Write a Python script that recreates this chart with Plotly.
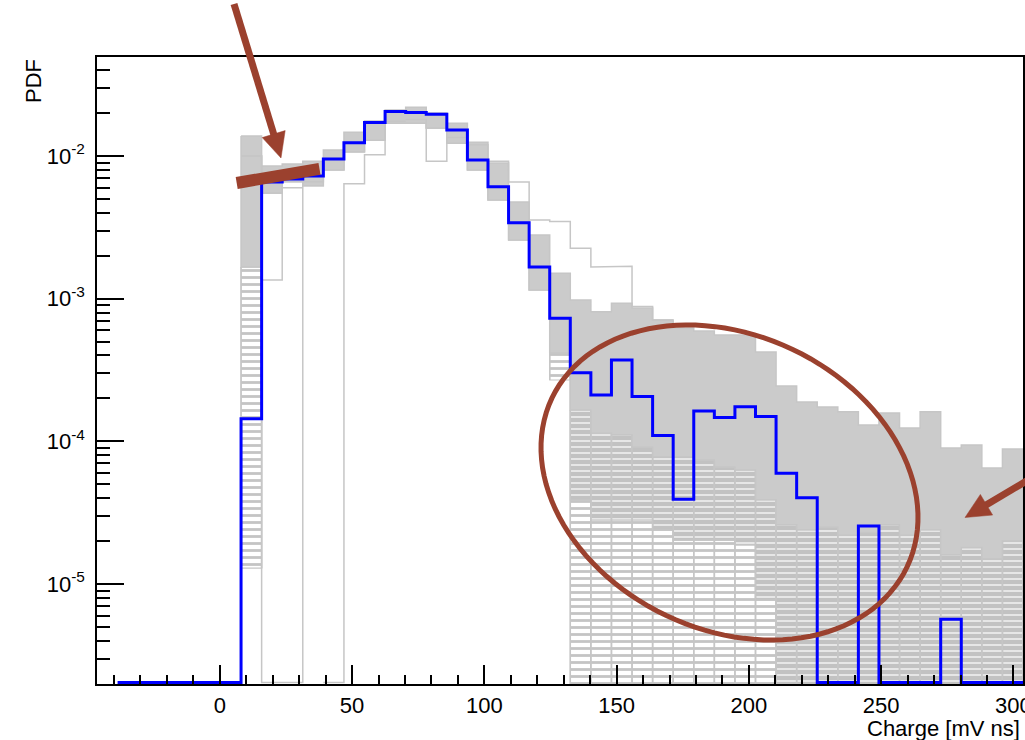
import math
import plotly.graph_objects as go

# ---------------- data ----------------
BIN_START = -38.62          # left edge of first drawn bin [mV ns]
BIN_WIDTH = 350.0 / 45.0    # bin width [mV ns]
N_BINS = 44
X_RANGE = [-46.4, 303.6]
LOG_Y_RANGE = [-5.701, -1.306]

x_tick_vals = [0, 50, 100, 150, 200, 250, 300]
y_tick_vals = [1e-5, 1e-4, 1e-3, 1e-2]
y_tick_text = ["10<sup>-5</sup>", "10<sup>-4</sup>", "10<sup>-3</sup>", "10<sup>-2</sup>"]
x_title = "Charge [mV ns]"
y_title = "PDF"

# blue (data) histogram, one value per bin
blue_pdf = [0, 0, 0, 0, 0, 0,
            1.44e-4, 6.58e-3, 6.90e-3, 7.24e-3, 9.53e-3, 1.24e-2, 1.72e-2, 2.05e-2,
            2.02e-2, 1.96e-2, 1.52e-2, 9.38e-3, 6.10e-3, 3.41e-3, 1.67e-3, 7.28e-4,
            3.03e-4, 2.11e-4, 3.72e-4, 2.06e-4, 1.10e-4, 3.93e-5, 1.63e-4, 1.47e-4,
            1.75e-4, 1.49e-4, 5.97e-5, 4.03e-5, 0, 0, 2.55e-5, 0, 0, 0, 5.66e-6, 0, 0, 0]

# grey ensemble of histograms: upper envelope, lower edge of the solid band,
# lower edge of the half-dense part, lower edge of the sparse lines (0 = bottom)
gray_top = [None] * 6 + [
    1.38e-2, 8.5e-3, 8.8e-3, 9.2e-3, 1.10e-2, 1.47e-2, 1.76e-2, 2.10e-2,
    2.20e-2, 2.00e-2, 1.70e-2, 1.25e-2, 8.93e-3, 4.76e-3, 2.79e-3, 1.51e-3,
    9.8e-4, 8.11e-4, 9.3e-4, 8.6e-4, 7.08e-4, 6.22e-4, 5.93e-4, 5.56e-4,
    5.56e-4, 4.23e-4, 2.44e-4, 1.89e-4, 1.74e-4, 1.61e-4, 1.30e-4, 1.58e-4,
    1.24e-4, 1.61e-4, 8.97e-5, 9.42e-5, 6.5e-5, 8.83e-5]
gray_dense_lo = [None] * 6 + [
    1.67e-3, 5.5e-3, 6.6e-3, 6.2e-3, 7.98e-3, 1.07e-2, 1.29e-2, 1.70e-2,
    1.70e-2, 1.57e-2, 1.23e-2, 7.98e-3, 4.92e-3, 2.58e-3, 1.15e-3, 4.16e-4,
    1.66e-4, 1.14e-4, 1.11e-4, 9.1e-5, 7.8e-5, 7.8e-5, 7.4e-5, 6.6e-5,
    6.3e-5, 3.9e-5, 2.6e-5, 2.4e-5, 2.5e-5, 2.2e-5, 2.3e-5, 2.6e-5,
    2.2e-5, 2.4e-5, 1.6e-5, 1.8e-5, 1.5e-5, 2.0e-5]
gray_mid_lo = [None] * 6 + [
    1.67e-3, 5.5e-3, 6.6e-3, 6.2e-3, 7.98e-3, 1.07e-2, 1.29e-2, 1.70e-2,
    1.70e-2, 1.57e-2, 1.23e-2, 7.98e-3, 4.92e-3, 2.58e-3, 1.15e-3, 4.16e-4,
    3.88e-5, 2.81e-5, 2.81e-5, 2.81e-5, 2.39e-5, 2.03e-5, 2.03e-5, 2.03e-5,
    1.88e-5, 7.7e-6, 0, 0, 0, 0, 0, 0,
    0, 0, 0, 0, 0, 0]
gray_sparse_lo = [None] * 6 + [
    1.29e-5, 5.5e-3, 6.6e-3, 6.2e-3, 7.98e-3, 1.07e-2, 1.29e-2, 1.70e-2,
    1.70e-2, 1.57e-2, 1.23e-2, 7.98e-3, 4.92e-3, 2.58e-3, 1.15e-3, 2.69e-4,
    0, 0, 0, 0, 0, 0, 0, 0,
    0, 0, 0, 0, 0, 0, 0, 0,
    0, 0, 0, 0, 0, 0]

# individual grey histograms that stand out of the band (start bin, values)
outlier_a_start, outlier_a_pdf = 6, [1.0e-2, 1.35e-3, 6.0e-3]
outlier_b_start, outlier_b_pdf = 6, [1.0e-2, 0, 0, 6.6e-3, 9.5e-3]
outlier_c_start, outlier_c_pdf = 10, [0, 6.4e-3, 1.02e-2, 1.75e-2]
outlier_d_start, outlier_d_pdf = 14, [1.8e-2, 9.2e-3, 1.35e-2]
outlier_e_start, outlier_e_pdf = 17, [1.2e-2, 9.2e-3, 6.58e-3, 3.56e-3, 3.47e-3,
                                      2.26e-3, 1.67e-3, 1.69e-3, 8.8e-4, 7.1e-4]

# ---------------- helpers ----------------
Y_AXIS_BOTTOM = 10 ** (LOG_Y_RANGE[0] + 0.01)   # zero bins drawn on the axis
Y_FILL_FLOOR = 10 ** (LOG_Y_RANGE[0] - 0.2)     # below axis, clipped

edges = [BIN_START + k * BIN_WIDTH for k in range(N_BINS + 1)]

GRAY_LINE = "#c6c6c6"
GRAY_FILL = "#cbcbcb"
BLUE = "#0000ff"
BROWN = "#9b412e"


def floor_line(v):
    return v if v and v > 0 else Y_AXIS_BOTTOM


def floor_fill(v):
    return v if v and v > 0 else Y_FILL_FLOOR


def step_xy(start, vals, floor):
    xs, ys = [], []
    for i, v in enumerate(vals):
        j = start + i
        xs += [edges[j], edges[j + 1]]
        ys += [floor(v), floor(v)]
    return xs, ys


def band_polygon(upper, lower):
    idx = [j for j in range(N_BINS) if upper[j] is not None]
    xs, ys = [], []
    for j in idx:
        xs += [edges[j], edges[j + 1]]
        ys += [floor_fill(upper[j]), floor_fill(upper[j])]
    for j in reversed(idx):
        xs += [edges[j + 1], edges[j]]
        ys += [floor_fill(lower[j]), floor_fill(lower[j])]
    xs.append(xs[0])
    ys.append(ys[0])
    return xs, ys


fig = go.Figure()

# sparse part of the grey ensemble (few horizontal lines)
sx, sy = band_polygon(gray_mid_lo, gray_sparse_lo)
fig.add_trace(go.Scatter(
    x=sx, y=sy, mode="lines", fill="toself",
    line=dict(color=GRAY_LINE, width=1.2), fillcolor="white",
    fillpattern=dict(shape="-", fgcolor="#c4c4c4", bgcolor="white", size=7,
                     solidity=0.4, fgopacity=1),
    hoverinfo="skip"))

# half-dense part (many horizontal lines)
mx, my = band_polygon(gray_dense_lo, gray_mid_lo)
fig.add_trace(go.Scatter(
    x=mx, y=my, mode="lines", fill="toself",
    line=dict(color=GRAY_LINE, width=1.2), fillcolor="white",
    fillpattern=dict(shape="-", fgcolor="#c2c2c2", bgcolor="white", size=6,
                     solidity=0.8, fgopacity=1),
    hoverinfo="skip"))

# vertical bin edges in the non-solid part
vx, vy = [], []
for j in range(N_BINS):
    if gray_sparse_lo[j] is not None and (gray_sparse_lo[j] < gray_dense_lo[j]):
        for e in (edges[j], edges[j + 1]):
            vx += [e, e, None]
            vy += [floor_fill(gray_sparse_lo[j]), gray_dense_lo[j], None]
fig.add_trace(go.Scatter(x=vx, y=vy, mode="lines",
                         line=dict(color=GRAY_LINE, width=1.5), hoverinfo="skip"))

# solid part of the grey ensemble
dx, dy = band_polygon(gray_top, gray_dense_lo)
fig.add_trace(go.Scatter(
    x=dx, y=dy, mode="lines", fill="toself",
    line=dict(color=GRAY_LINE, width=1.5), fillcolor=GRAY_FILL, hoverinfo="skip"))

# individual grey outlier histograms
for start, vals in [(outlier_a_start, outlier_a_pdf), (outlier_b_start, outlier_b_pdf),
                    (outlier_c_start, outlier_c_pdf), (outlier_d_start, outlier_d_pdf),
                    (outlier_e_start, outlier_e_pdf)]:
    ox, oy = step_xy(start, vals, floor_line)
    fig.add_trace(go.Scatter(x=ox, y=oy, mode="lines",
                             line=dict(color=GRAY_LINE, width=1.5), hoverinfo="skip"))

# blue histogram
bx = edges[:]
by = [floor_line(v) for v in blue_pdf] + [floor_line(blue_pdf[-1])]
fig.add_trace(go.Scatter(x=bx, y=by, mode="lines", line_shape="hv",
                         line=dict(color=BLUE, width=3), hoverinfo="skip"))

# ---------------- layout ----------------
W, H = 1025, 740
ML, MR, MT, MB = 97, 2, 57, 56
PW, PH = W - ML - MR, H - MT - MB


def px(xp):
    return (xp - ML) / PW


def py(yp):
    return (H - MB - yp) / PH


axis_common = dict(showgrid=False, zeroline=False, showline=True, linecolor="black",
                   linewidth=1.5, mirror=True, ticks="inside", tickcolor="black",
                   tickwidth=1.5, ticklabeloverflow="allow", automargin=False)

fig.update_xaxes(range=X_RANGE, tickmode="array", tickvals=x_tick_vals, ticklen=19,
                 minor=dict(ticks="inside", ticklen=9, tickwidth=1.5, tickcolor="black",
                            tickmode="linear", tick0=0, dtick=10),
                 ticklabelstandoff=1, **axis_common)
fig.update_yaxes(type="log", range=LOG_Y_RANGE, tickmode="array", tickvals=y_tick_vals,
                 ticktext=y_tick_text, ticklen=27,
                 minor=dict(ticks="inside", ticklen=13, tickwidth=1.5, tickcolor="black",
                            tickmode="array",
                            tickvals=[m * 10 ** e for e in range(-6, -1) for m in range(2, 10)]),
                 ticklabelstandoff=6, **axis_common)

shapes = []
# thick bar
shapes.append(dict(type="line", xref="paper", yref="paper",
                   x0=px(236.7), y0=py(183), x1=px(319.5), y1=py(168.8),
                   line=dict(color=BROWN, width=12)))


def arrow(x_start, y_start, x_tip, y_tip, width, head_len, head_half):
    dxv, dyv = x_tip - x_start, y_tip - y_start
    L = math.hypot(dxv, dyv)
    ux, uy = dxv / L, dyv / L
    bxc, byc = x_tip - head_len * ux, y_tip - head_len * uy
    nx, ny = -uy, ux
    out = [dict(type="line", xref="paper", yref="paper",
                x0=px(x_start), y0=py(y_start), x1=px(bxc + 2 * ux), y1=py(byc + 2 * uy),
                line=dict(color=BROWN, width=width))]
    p1 = (bxc + head_half * nx, byc + head_half * ny)
    p2 = (bxc - head_half * nx, byc - head_half * ny)
    path = "M {},{} L {},{} L {},{} Z".format(px(x_tip), py(y_tip), px(p1[0]), py(p1[1]),
                                              px(p2[0]), py(p2[1]))
    out.append(dict(type="path", xref="paper", yref="paper", path=path,
                    fillcolor=BROWN, line=dict(color=BROWN, width=0.5)))
    return out


shapes += arrow(234, 4, 281, 158, 7, 25, 12)
shapes += arrow(1045, 470, 965, 517.5, 7, 25, 12)

# ellipse (rotated)
cx, cy, a, b, th = 729.5, 482.5, 196.6, 147.3, math.radians(25.4)
pts = []
for i in range(121):
    t = 2 * math.pi * i / 120
    ex = cx + a * math.cos(th) * math.cos(t) - b * math.sin(th) * math.sin(t)
    ey = cy + a * math.sin(th) * math.cos(t) + b * math.cos(th) * math.sin(t)
    pts.append((px(ex), py(ey)))
epath = "M " + " L ".join("{:.5f},{:.5f}".format(p[0], p[1]) for p in pts) + " Z"
shapes.append(dict(type="path", xref="paper", yref="paper", path=epath,
                   line=dict(color=BROWN, width=5)))

fig.update_layout(
    width=W, height=H, margin=dict(l=ML, r=MR, t=MT, b=MB, pad=0, autoexpand=False),
    paper_bgcolor="white", plot_bgcolor="white", showlegend=False,
    font=dict(family="Liberation Sans, Arial, Helvetica, sans-serif", size=22, color="black"),
    shapes=shapes,
    annotations=[
        dict(text=x_title, xref="paper", yref="paper", x=px(1022), y=py(728),
             xanchor="right", yanchor="middle", showarrow=False,
             font=dict(size=22, color="black")),
        dict(text=y_title, xref="paper", yref="paper", x=px(33), y=py(57),
             xanchor="center", yanchor="top", textangle=-90, showarrow=False,
             font=dict(size=22, color="black")),
    ],
)

fig.write_html("out.html")
